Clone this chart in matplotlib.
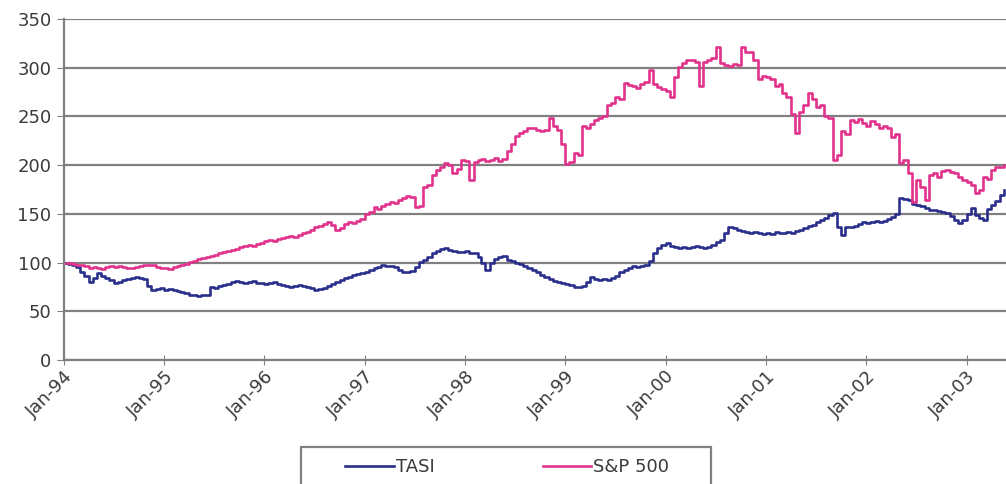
import numpy as np
import pandas as pd
import matplotlib
matplotlib.use("Agg")
import matplotlib.pyplot as plt
import matplotlib.dates as mdates
from matplotlib.patches import Rectangle

plt.rcParams['font.family'] = ['DejaVu Sans']

# index levels, rebased to 100 at Jan-94, two readings per month (1st / 15th)
tasi_94 = [100, 99, 97, 95, 90, 86, 80, 84, 89, 86, 84, 82, 79, 80, 82, 83, 84, 85, 84, 83, 76, 72, 73, 74]
tasi_95 = [72, 73, 72, 71, 70, 69, 67, 67, 66, 67, 67, 75, 74, 76, 77, 78, 80, 81, 80, 79, 80, 81, 79, 79]
tasi_96 = [78, 79, 80, 78, 77, 76, 75, 76, 77, 76, 75, 74, 72, 73, 74, 76, 78, 80, 82, 84, 85, 87, 88, 89]
tasi_97 = [90, 92, 94, 95, 97, 96, 96, 95, 92, 90, 90, 91, 95, 101, 103, 106, 110, 112, 114, 115, 113, 112, 111, 111]
tasi_98 = [112, 110, 110, 106, 100, 92, 100, 104, 106, 107, 103, 102, 100, 99, 96, 94, 92, 90, 87, 85, 83, 81, 80, 79]
tasi_99 = [78, 77, 75, 75, 76, 80, 85, 83, 82, 83, 82, 84, 86, 90, 92, 94, 96, 95, 96, 97, 102, 110, 115, 118]
tasi_00 = [120, 117, 116, 115, 116, 115, 116, 117, 116, 115, 116, 118, 121, 123, 130, 137, 135, 133, 132, 131, 130, 131, 130, 129]
tasi_01 = [130, 129, 131, 130, 130, 131, 130, 132, 133, 135, 138, 139, 142, 144, 146, 149, 151, 137, 128, 137, 137, 138, 140, 142]
tasi_02 = [141, 142, 143, 142, 143, 145, 147, 150, 166, 165, 164, 160, 159, 158, 156, 154, 154, 153, 152, 151, 148, 144, 141, 144]
tasi_03 = [150, 156, 149, 146, 144, 155, 159, 163, 169, 175]

sp_94 = [100, 100, 99, 98, 97, 96, 94, 95, 94, 93, 95, 96, 95, 96, 95, 94, 94, 95, 96, 97, 98, 97, 95, 94]
sp_95 = [94, 93, 95, 96, 98, 99, 101, 102, 104, 105, 106, 107, 108, 110, 111, 112, 113, 114, 116, 117, 118, 117, 119, 120]
sp_96 = [122, 123, 122, 124, 125, 126, 127, 126, 128, 130, 131, 133, 137, 138, 140, 142, 139, 133, 136, 140, 142, 141, 143, 145]
sp_97 = [150, 152, 157, 155, 158, 160, 162, 161, 164, 166, 168, 167, 157, 158, 178, 180, 190, 195, 198, 202, 200, 192, 196, 205]
sp_98 = [204, 185, 203, 205, 206, 204, 205, 207, 204, 206, 215, 222, 230, 233, 235, 238, 238, 236, 235, 236, 248, 240, 236, 222]
sp_99 = [201, 203, 212, 210, 240, 238, 242, 246, 248, 250, 262, 264, 270, 268, 284, 282, 281, 279, 283, 285, 298, 283, 280, 278]
sp_00 = [276, 270, 290, 301, 305, 308, 308, 306, 281, 306, 308, 310, 321, 305, 303, 302, 304, 303, 321, 316, 316, 308, 288, 292]
sp_01 = [290, 288, 281, 283, 274, 270, 253, 233, 255, 262, 274, 268, 260, 262, 250, 248, 205, 210, 235, 232, 246, 244, 247, 243]
sp_02 = [240, 245, 242, 238, 240, 238, 229, 232, 202, 205, 192, 162, 185, 178, 164, 190, 192, 188, 194, 195, 193, 192, 188, 185]
sp_03 = [183, 180, 171, 175, 188, 186, 195, 198, 198, 200]

tasi = tasi_94 + tasi_95 + tasi_96 + tasi_97 + tasi_98 + tasi_99 + tasi_00 + tasi_01 + tasi_02 + tasi_03
sp500 = sp_94 + sp_95 + sp_96 + sp_97 + sp_98 + sp_99 + sp_00 + sp_01 + sp_02 + sp_03
dates = pd.date_range('1994-01-01', periods=len(tasi), freq='SMS')

year_ticks = pd.date_range('1994-01-01', '2003-01-01', freq='YS')

fig = plt.figure(figsize=(10.06, 4.84), dpi=100)
ax = fig.add_axes([0.0636, 0.2562, 0.9364, 0.7045])

l1, = ax.plot(dates, tasi, drawstyle='steps-post', color='#2a2f8c', lw=1.9, label='TASI')
l2, = ax.plot(dates, sp500, drawstyle='steps-post', color='#e1338c', lw=1.9, label='S&P 500')

ax.set_ylim(0, 350)
ax.set_yticks(np.arange(0, 351, 50))
ax.set_xlim(pd.Timestamp('1994-01-01'), pd.Timestamp('2003-05-24'))
ax.set_xticks(year_ticks)
ax.xaxis.set_major_formatter(mdates.DateFormatter('%b-%y'))

ax.grid(axis='y', color='#808080', lw=1.6)
ax.set_axisbelow(True)
for s in ['top', 'right']:
    ax.spines[s].set_visible(False)
for s in ['left', 'bottom']:
    ax.spines[s].set_color('#808080')
    ax.spines[s].set_linewidth(1.6)

ax.tick_params(axis='y', direction='out', length=5, color='#808080', labelsize=13, labelcolor='#3a3a3a', pad=4)
ax.tick_params(axis='x', direction='inout', length=7, color='#808080', labelsize=13, labelcolor='#3a3a3a', pad=2)
plt.setp(ax.get_xticklabels(), rotation=45, ha='right', rotation_mode='anchor')

# legend box runs off the bottom edge of the figure
fig.patches.append(Rectangle((0.2992, -0.05), 0.4076, 0.1264, transform=fig.transFigure,
                             facecolor='white', edgecolor='#808080', lw=1.6, zorder=2))
leg = fig.legend(handles=[l1, l2], loc='center left', ncol=2,
                 bbox_to_anchor=(345 / 1006, 1 - 467 / 484), fontsize=13,
                 frameon=False, handlelength=2.7, handletextpad=0.1,
                 columnspacing=6.0, borderpad=0, borderaxespad=0,
                 labelcolor='#3a3a3a')
leg.set_zorder(3)

fig.savefig('out.png', dpi=100)
